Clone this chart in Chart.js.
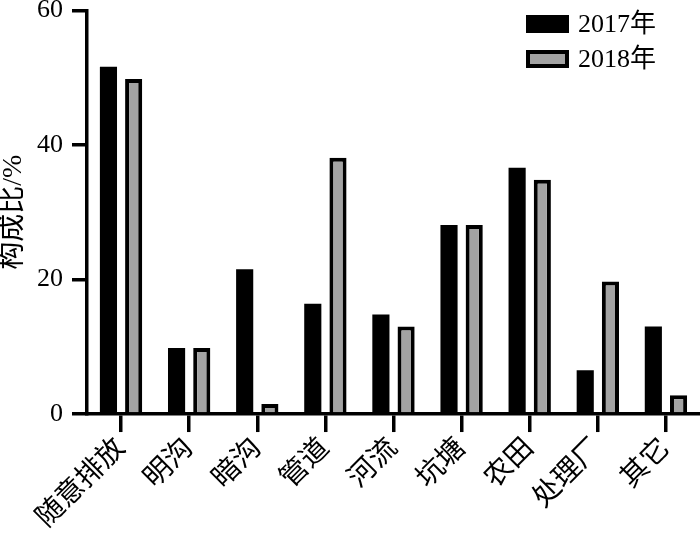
<!DOCTYPE html>
<html>
<head>
<meta charset="utf-8">
<script src="https://cdn.jsdelivr.net/npm/chart.js@4"></script>
<style>
  body { margin: 0; background: #fff; }
  #wrap { width: 700px; height: 554px; }
</style>
</head>
<body>
<div id="wrap"><canvas id="chart"></canvas></div>
<script>
// data
const categories = ['随意排放', '明沟', '暗沟', '管道', '河流', '坑塘', '农田', '处理厂', '其它'];
const seriesNames = ['2017年', '2018年'];
const values2017 = [51.6, 9.8, 21.5, 16.4, 14.8, 28.1, 36.6, 6.5, 13.0];
const values2018 = [49.8, 9.8, 1.5, 38.1, 13.0, 28.1, 34.8, 19.7, 2.8];
const yTicks = [0, 20, 40, 60];

const FONT = "'Liberation Serif', 'Noto Sans CJK SC', serif";

// legend in the upper right corner, two rows
const cornerLegend = {
  id: 'cornerLegend',
  afterDraw(chart) {
    const ctx = chart.ctx;
    const x0 = chart.chartArea.right - 174;
    ctx.save();
    chart.data.datasets.forEach(function(ds, i) {
      const top = 15 + i * 35;
      const bw = ds.borderWidth || 0;
      ctx.fillStyle = ds.borderColor;
      ctx.fillRect(x0, top, 43, 18);
      ctx.fillStyle = ds.backgroundColor;
      ctx.fillRect(x0 + bw, top + bw, 43 - 2 * bw, 18 - 2 * bw);
      ctx.fillStyle = '#000';
      ctx.font = '26px ' + FONT;
      ctx.textBaseline = 'middle';
      ctx.textAlign = 'left';
      ctx.fillText(ds.label, x0 + 52, top + 10);
    });
    ctx.restore();
  }
};

new Chart(document.getElementById('chart').getContext('2d'), {
  type: 'bar',
  data: {
    labels: categories,
    datasets: [
      {
        label: seriesNames[0],
        data: values2017,
        backgroundColor: '#000000',
        borderColor: '#000000',
        borderWidth: 0,
        categoryPercentage: 0.74,
        barPercentage: 0.68
      },
      {
        label: seriesNames[1],
        data: values2018,
        backgroundColor: '#a3a3a3',
        borderColor: '#000000',
        borderWidth: 4,
        categoryPercentage: 0.74,
        barPercentage: 0.68
      }
    ]
  },
  options: {
    responsive: true,
    maintainAspectRatio: false,
    animation: false,
    layout: { padding: { left: 0, right: 0, top: 0, bottom: 19 } },
    plugins: {
      legend: { display: false },
      tooltip: { enabled: false }
    },
    scales: {
      x: {
        offset: true,
        grid: {
          offset: false,
          drawOnChartArea: false,
          drawTicks: true,
          tickLength: 18,
          color: '#000',
          lineWidth: 3.5
        },
        border: { color: '#000', width: 3.5 },
        ticks: {
          color: '#000',
          font: { family: FONT, size: 28 },
          minRotation: 45,
          maxRotation: 45,
          padding: 0
        }
      },
      y: {
        min: 0,
        max: 60,
        afterBuildTicks: function(scale) {
          scale.ticks = yTicks.map(function(v) { return { value: v }; });
        },
        grid: {
          drawOnChartArea: false,
          drawTicks: true,
          tickLength: 15,
          color: '#000',
          lineWidth: 3.5
        },
        border: { color: '#000', width: 3.5 },
        ticks: {
          color: '#000',
          font: { family: FONT, size: 26, lineHeight: 0.1 },
          padding: 9
        },
        title: {
          display: true,
          text: '构成比/%',
          color: '#000',
          font: { family: FONT, size: 28, lineHeight: 1 },
          padding: { top: 0, bottom: 0 }
        }
      }
    }
  },
  plugins: [cornerLegend]
});
</script>
</body>
</html>
